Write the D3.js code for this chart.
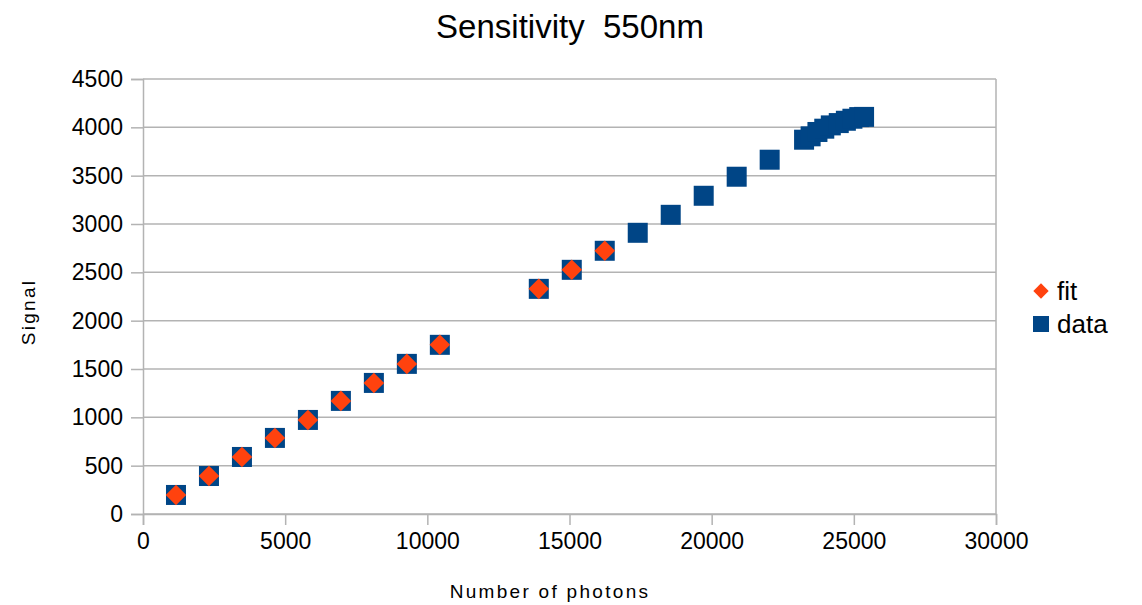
<!DOCTYPE html>
<html>
<head>
<meta charset="utf-8">
<script src="https://cdn.jsdelivr.net/npm/d3@7"></script>
<style>
  body { margin: 0; background: #fff; }
  text { font-family: "Liberation Sans", Arial, sans-serif; fill: #000; }
</style>
</head>
<body>
<script>
// photons vs signal
let dataX = [1160, 2320, 3480, 4640, 5800, 6960, 8120, 9280, 10440,
    13920, 15080, 16240, 17400, 18560, 19720, 20880, 22040,
    23250, 23480, 23720, 23960, 24190, 24470, 24720, 24950, 25190, 25360];
let dataY = [197, 393, 590, 787, 973, 1170, 1356, 1553, 1750,
    2329, 2526, 2723, 2909, 3095, 3292, 3489, 3665,
    3872, 3907, 3952, 3986, 4020, 4044, 4068, 4089, 4106, 4108];
let fitX = [1160, 2320, 3480, 4640, 5800, 6960, 8120, 9280, 10440, 13920, 15080, 16240];
let fitY = [197, 393, 590, 787, 973, 1170, 1356, 1553, 1750, 2329, 2526, 2723];

let xTicks = [0, 5000, 10000, 15000, 20000, 25000, 30000];
let yTicks = [0, 500, 1000, 1500, 2000, 2500, 3000, 3500, 4000, 4500];

let svgWidth = 1142;
let svgHeight = 605;

let margin = { top: 79, right: 146, bottom: 91, left: 143 };
let chartWidth = svgWidth - margin.left - margin.right;
let chartHeight = svgHeight - margin.top - margin.bottom;

let svg = d3.select("body")
    .append("svg")
    .attr("width", svgWidth)
    .attr("height", svgHeight);

let chartGroup = svg.append("g")
    .attr("transform", `translate(${margin.left}, ${margin.top})`);

let xScale = d3.scaleLinear().domain([0, 30000]).range([0, chartWidth]);
let yScale = d3.scaleLinear().domain([0, 4500]).range([chartHeight, 0]);

let gridColor = "#b3b3b3";

// horizontal grid
chartGroup.selectAll(".hgrid")
    .data(yTicks)
    .enter().append("line")
    .attr("x1", 0).attr("x2", chartWidth)
    .attr("y1", d => yScale(d)).attr("y2", d => yScale(d))
    .attr("stroke", gridColor).attr("stroke-width", 1.5);

// right border
chartGroup.append("line")
    .attr("x1", chartWidth).attr("x2", chartWidth)
    .attr("y1", 0).attr("y2", chartHeight)
    .attr("stroke", gridColor).attr("stroke-width", 1.5);

// X Axis
let xAxis = chartGroup.append("g")
    .attr("transform", `translate(0, ${chartHeight})`)
    .call(d3.axisBottom(xScale).tickValues(xTicks).tickSize(11).tickPadding(8).tickFormat(d => d));
xAxis.select(".domain").attr("stroke", gridColor).attr("stroke-width", 1.5);
xAxis.selectAll(".tick line").attr("stroke", gridColor).attr("stroke-width", 1.5);
xAxis.selectAll("text").attr("font-size", 23).attr("fill", "#000");

// Y Axis
let yAxis = chartGroup.append("g")
    .call(d3.axisLeft(yScale).tickValues(yTicks).tickSize(12).tickPadding(8).tickFormat(d => d));
yAxis.select(".domain").attr("stroke", gridColor).attr("stroke-width", 1.5);
yAxis.selectAll(".tick line").attr("stroke", gridColor).attr("stroke-width", 1.5);
yAxis.selectAll("text").attr("font-size", 23).attr("fill", "#000");

let dataColor = "#004586";
let fitColor = "#ff420e";
let sq = 20;

let dataPts = dataX.map((x, i) => ({ x: x, y: dataY[i] }));
let fitPts = fitX.map((x, i) => ({ x: x, y: fitY[i] }));

chartGroup.selectAll(".data")
    .data(dataPts)
    .enter().append("rect")
    .attr("x", d => xScale(d.x) - sq / 2)
    .attr("y", d => yScale(d.y) - sq / 2)
    .attr("width", sq).attr("height", sq)
    .attr("fill", dataColor);

let diamond = d3.symbol().type(d3.symbolDiamond2).size(270);
chartGroup.selectAll(".fit")
    .data(fitPts)
    .enter().append("path")
    .attr("transform", d => `translate(${xScale(d.x)}, ${yScale(d.y)})`)
    .attr("d", diamond)
    .attr("fill", fitColor);

// title
svg.append("text")
    .attr("x", 570).attr("y", 38)
    .attr("text-anchor", "middle")
    .attr("font-size", 33)
    .style("white-space", "pre")
    .text("Sensitivity  550nm");

// axis titles
svg.append("text")
    .attr("x", 550).attr("y", 598)
    .attr("text-anchor", "middle")
    .attr("font-size", 19)
    .attr("letter-spacing", 2.3)
    .text("Number of photons");

svg.append("text")
    .attr("transform", "translate(35, 312) rotate(-90)")
    .attr("text-anchor", "middle")
    .attr("font-size", 19)
    .attr("letter-spacing", 2.3)
    .text("Signal");

// legend
let legend = svg.append("g").attr("transform", "translate(1041, 291)");
legend.append("path")
    .attr("d", d3.symbol().type(d3.symbolDiamond2).size(150))
    .attr("fill", fitColor);
legend.append("text")
    .attr("x", 16).attr("y", 9)
    .attr("font-size", 26)
    .text("fit");
legend.append("rect")
    .attr("x", -8).attr("y", 25)
    .attr("width", 16).attr("height", 16)
    .attr("fill", dataColor);
legend.append("text")
    .attr("x", 16).attr("y", 42)
    .attr("font-size", 26)
    .text("data");
</script>
</body>
</html>
